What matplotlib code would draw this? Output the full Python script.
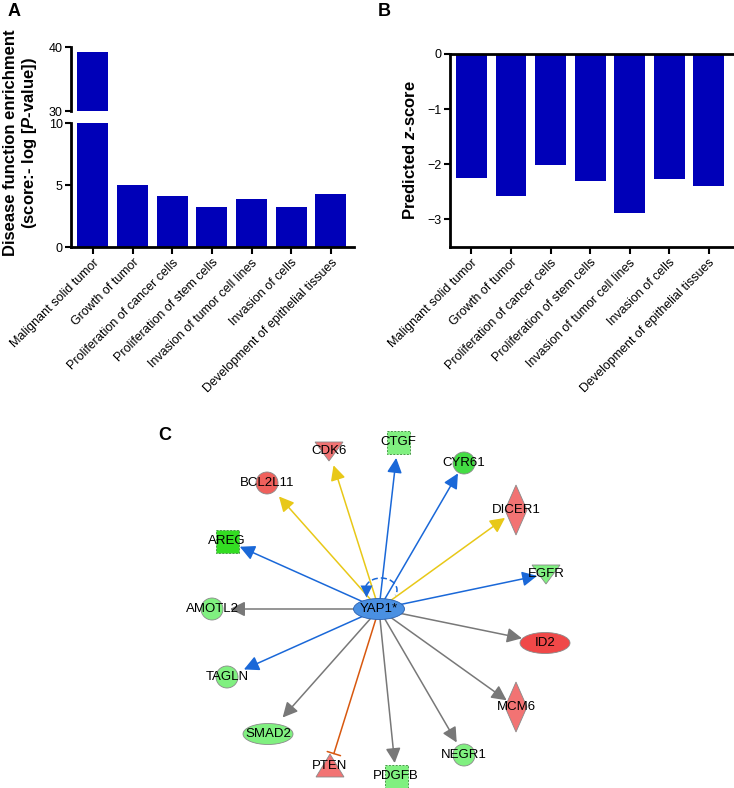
import numpy as np
import matplotlib.pyplot as plt
from matplotlib.patches import Circle, Ellipse, Polygon, Rectangle, Arc

plt.rcParams['font.family'] = ['Liberation Sans', 'DejaVu Sans']
plt.rcParams['mathtext.fontset'] = 'custom'
plt.rcParams['mathtext.rm'] = 'Liberation Sans:bold'
plt.rcParams['mathtext.it'] = 'Liberation Sans:italic:bold'

# ---- data ----
functions = ['Malignant solid tumor', 'Growth of tumor', 'Proliferation of cancer cells',
             'Proliferation of stem cells', 'Invasion of tumor cell lines',
             'Invasion of cells', 'Development of epithelial tissues']
enrichment = [39.2, 5.0, 4.1, 3.2, 3.85, 3.2, 4.3]
zscore = [-2.25, -2.58, -2.02, -2.30, -2.88, -2.27, -2.39]

# network: name, shape, fill colour, layout x, layout y, edge type
hub = 'YAP1*'
hub_xy = (379, 609)
nodes = [
    ('CDK6', 'tri_down', '#f27373', 329, 451, 'yellow'),
    ('CTGF', 'square', '#80f080', 398, 442, 'blue'),
    ('CYR61', 'circle', '#44dd44', 464, 463, 'blue'),
    ('BCL2L11', 'circle', '#f0605c', 267, 483, 'yellow'),
    ('DICER1', 'diamond', '#f27373', 516, 510, 'yellow'),
    ('AREG', 'square', '#33dd22', 227, 541, 'blue'),
    ('EGFR', 'tri_down', '#80f080', 546, 574, 'blue'),
    ('AMOTL2', 'circle', '#80f080', 212, 609, 'gray'),
    ('ID2', 'ellipse', '#f04848', 545, 643, 'gray'),
    ('TAGLN', 'circle', '#80f080', 227, 677, 'blue'),
    ('MCM6', 'diamond', '#f27373', 516, 707, 'gray'),
    ('SMAD2', 'ellipse', '#80f080', 268, 734, 'gray'),
    ('PTEN', 'tri_up', '#f27373', 330, 766, 'inhibit'),
    ('PDGFB', 'square', '#80f080', 396, 776, 'gray'),
    ('NEGR1', 'circle', '#80f080', 464, 755, 'gray'),
]
# distance from node centre to arrow tip
tip_gap = [15, 16, 12, 18, 13.5, 14, 9, 18, 23.5, 18.5, 11.5, 22, 13, 13, 14.5]

bar_color = '#0000b8'
edge_colors = {'yellow': '#e8c818', 'blue': '#1a68d8', 'gray': '#787878', 'inhibit': '#d8580f'}

fig = plt.figure(figsize=(7.34, 7.88), dpi=100)
W, H = 734, 788


def px_axes(x0, y0, x1, y1):
    return fig.add_axes([x0 / W, 1 - y1 / H, (x1 - x0) / W, (y1 - y0) / H])


x = np.arange(len(functions))

# ---- panel A (broken axis) ----
ax_top = px_axes(71, 47, 354, 111)
ax_bot = px_axes(71, 123, 354, 247)
for ax in (ax_top, ax_bot):
    ax.bar(x, enrichment, width=0.78, color=bar_color)
    ax.set_xlim(-0.55, 6.58)
    for s in ('top', 'right'):
        ax.spines[s].set_visible(False)
    for s in ('left', 'bottom'):
        ax.spines[s].set_linewidth(2)
    ax.tick_params(axis='both', direction='out', length=4, width=1.5, labelsize=9, pad=2)
ax_top.set_ylim(30, 40)
ax_top.set_yticks([30, 40])
ax_top.spines['bottom'].set_visible(False)
ax_top.set_xticks([])
ax_bot.set_ylim(0, 10)
ax_bot.set_yticks([0, 5, 10])
ax_bot.set_xticks(x)
ax_bot.set_xticklabels(functions, rotation=45, ha='right', rotation_mode='anchor', fontsize=9)
ax_bot.tick_params(axis='x', length=5)

fig.text(21 / W, 1 - 143 / H, 'Disease function enrichment\n(score:- log [$\\it{P}$-value])',
         rotation=90, ha='center', va='center', fontsize=12, fontweight='bold', linespacing=1.1)
fig.text(14 / W, 1 - 12 / H, 'A', fontsize=13, fontweight='bold', ha='center', va='center')

# ---- panel B ----
ax_b = px_axes(450, 54, 733, 247)
ax_b.bar(x, zscore, width=0.78, color=bar_color)
ax_b.set_xlim(-0.54, 6.61)
ax_b.set_ylim(-3.5, 0)
ax_b.set_yticks([0, -1, -2, -3])
ax_b.set_yticklabels(['0', '\u22121', '\u22122', '\u22123'])
ax_b.spines['right'].set_visible(False)
for s in ('left', 'bottom', 'top'):
    ax_b.spines[s].set_linewidth(2)
ax_b.tick_params(axis='both', direction='out', length=4, width=1.5, labelsize=9, pad=2)
ax_b.set_xticks(x)
ax_b.set_xticklabels(functions, rotation=45, ha='right', rotation_mode='anchor', fontsize=9)
ax_b.tick_params(axis='x', length=5)
fig.text(410 / W, 1 - 150 / H, 'Predicted $\\it{z}$-score', rotation=90, ha='center', va='center',
         fontsize=12, fontweight='bold')
fig.text(384 / W, 1 - 12 / H, 'B', fontsize=13, fontweight='bold', ha='center', va='center')

# ---- panel C (network) ----
ax_c = px_axes(150, 420, 600, 788)
ax_c.set_xlim(150, 600)
ax_c.set_ylim(788, 420)
ax_c.axis('off')
fig.text(165 / W, 1 - 436 / H, 'C', fontsize=13, fontweight='bold', ha='center', va='center')

hx, hy = hub_xy
for (name, shape, fc, nx, ny, etype), gap in zip(nodes, tip_gap):
    d = np.array([nx - hx, ny - hy], dtype=float)
    u = d / np.hypot(*d)
    end = (nx - u[0] * gap, ny - u[1] * gap)
    col = edge_colors[etype]
    if etype == 'inhibit':
        props = dict(arrowstyle='-[, widthB=0.5, lengthB=0', color=col, lw=1.1,
                     shrinkA=0, shrinkB=0, mutation_scale=10)
    else:
        props = dict(arrowstyle='-|>, head_length=0.9, head_width=0.45', color=col, lw=1.1,
                     shrinkA=0, shrinkB=0, mutation_scale=10)
    ax_c.annotate('', xy=end, xytext=hub_xy, arrowprops=props, zorder=1)

# self loop on hub
ax_c.add_patch(Arc((381, 590), 32, 24, theta1=160, theta2=20, color=edge_colors['blue'],
                   lw=1.1, linestyle=(0, (4, 2)), zorder=2))
ax_c.plot([366], [591], marker='v', ms=9, color=edge_colors['blue'], mec='none', zorder=2)

outline = '#8a8a8a'
for name, shape, fc, nx, ny, etype in nodes:
    if shape == 'circle':
        p = Circle((nx, ny), 11, fc=fc, ec=outline, lw=0.6)
    elif shape == 'ellipse':
        p = Ellipse((nx, ny), 50, 21, fc=fc, ec=outline, lw=0.6)
    elif shape == 'square':
        p = Rectangle((nx - 11.5, ny - 11.5), 23, 23, fc=fc, ec='#4a9a4a', lw=0.7, linestyle=(0, (2, 1.5)))
    elif shape == 'diamond':
        p = Polygon([(nx, ny - 25), (nx + 11, ny), (nx, ny + 25), (nx - 11, ny)], fc=fc, ec=outline, lw=0.6)
    elif shape == 'tri_down':
        p = Polygon([(nx - 14, ny - 9), (nx + 14, ny - 9), (nx, ny + 10)], fc=fc, ec=outline, lw=0.6)
    else:
        p = Polygon([(nx - 14, ny + 11), (nx + 14, ny + 11), (nx, ny - 12)], fc=fc, ec=outline, lw=0.6)
    p.set_zorder(3)
    ax_c.add_patch(p)
    ax_c.text(nx, ny, name, ha='center', va='center', fontsize=9.5, zorder=5)

ax_c.add_patch(Ellipse(hub_xy, 51, 21, fc='#4a90e2', ec='#2a60b0', lw=0.6, zorder=4))
ax_c.text(hx, hy, hub, ha='center', va='center', fontsize=9.5, zorder=5)

fig.savefig('out.png', dpi=100)
